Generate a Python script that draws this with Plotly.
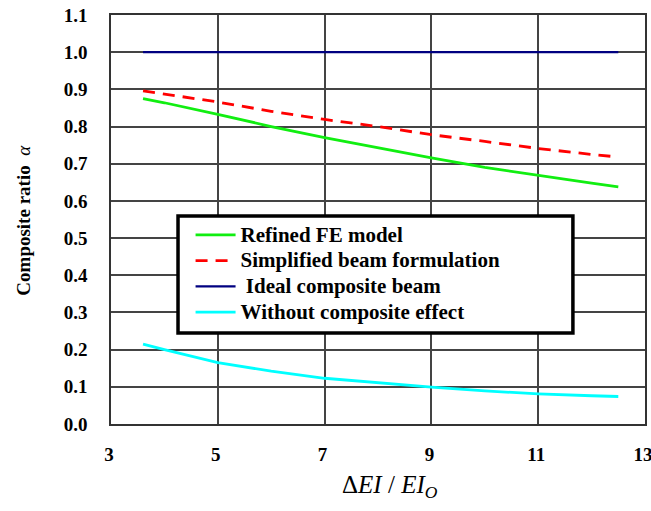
import plotly.graph_objects as go

x = [3.6, 4, 5, 6, 7, 8, 9, 10, 11, 12, 12.5]
refined_fe = [0.875, 0.864, 0.833, 0.800, 0.770, 0.742, 0.716, 0.690, 0.668, 0.648, 0.638]
simplified = [0.896, 0.888, 0.866, 0.841, 0.819, 0.800, 0.778, 0.760, 0.741, 0.725, 0.718]
ideal = [1.0] * len(x)
no_composite = [0.215, 0.200, 0.165, 0.142, 0.123, 0.110, 0.099, 0.089, 0.081, 0.076, 0.074]

x_ticks = [3, 5, 7, 9, 11, 13]
y_ticks = [round(i * 0.1, 1) for i in range(12)]

serif = "Liberation Serif, Times New Roman, serif"


def leg(txt):
    # bigger text than the legend font, so rows stay tight
    return f"<span style='font-size:21px'><b>{txt}</b></span>"


fig = go.Figure()
fig.add_trace(go.Scatter(x=x, y=refined_fe, mode="lines", name=leg("Refined FE model"),
                         line=dict(color="#11ee11", width=2.8)))
fig.add_trace(go.Scatter(x=x, y=simplified, mode="lines", name=leg("Simplified beam formulation"),
                         line=dict(color="#ff0000", width=2.8, dash="12px,8px")))
fig.add_trace(go.Scatter(x=x, y=ideal, mode="lines", name=leg(" Ideal composite beam"),
                         line=dict(color="#000080", width=2.2)))
fig.add_trace(go.Scatter(x=x, y=no_composite, mode="lines", name=leg("Without composite effect"),
                         line=dict(color="#00ffff", width=2.8)))

fig.update_layout(
    width=651, height=511,
    margin=dict(l=111, r=6, t=15, b=87),
    plot_bgcolor="white", paper_bgcolor="white",
    font=dict(family=serif, size=19, color="black"),
    showlegend=True,
    legend=dict(x=0.149, y=0.368, xanchor="left", yanchor="middle",
                bgcolor="rgba(0,0,0,0)", borderwidth=0,
                font=dict(family=serif, size=17.5, color="black"),
                itemwidth=40, tracegroupgap=0),
)
# legend frame
fig.add_shape(type="rect", xref="paper", yref="paper", x0=0.1255, x1=0.865, y0=0.2225, y1=0.5086,
              line=dict(color="black", width=3.5), fillcolor="white", layer="above")

fig.update_xaxes(range=[3, 13], tickvals=x_ticks, ticktext=[f"<b>{v}</b>" for v in x_ticks],
                 showgrid=True, gridcolor="#444444", gridwidth=1.5,
                 showline=True, linecolor="#333333", linewidth=1.5, mirror=True,
                 ticks="", ticklabelstandoff=12, ticklabelshift=-2, ticklabeloverflow="allow",
                 zeroline=False, automargin=False)
fig.update_yaxes(range=[0, 1.1], tickvals=y_ticks, ticktext=[f"<b>{v:.1f}</b>" for v in y_ticks],
                 showgrid=True, gridcolor="#444444", gridwidth=1.5,
                 showline=True, linecolor="#333333", linewidth=1.5, mirror=True,
                 ticks="", ticklabelstandoff=18, ticklabeloverflow="allow",
                 zeroline=False, automargin=False)

fig.add_annotation(text="<b>Composite ratio</b>  <i>α</i>", xref="paper", yref="paper",
                   x=-0.163, y=0.31, xanchor="center", yanchor="bottom", textangle=-90,
                   showarrow=False, font=dict(family=serif, size=19, color="black"))
fig.add_annotation(text="Δ<i>EI</i> / <i>EI</i><sub><i>O</i></sub>", xref="paper", yref="paper",
                   x=0.522, y=-0.11, yanchor="top", showarrow=False,
                   font=dict(family=serif, size=25, color="black"))

# drop the default 8px page margin so the figure fills the window
fig.write_html("out.html", config={"displayModeBar": False},
               post_script="document.body.style.margin='0';")
